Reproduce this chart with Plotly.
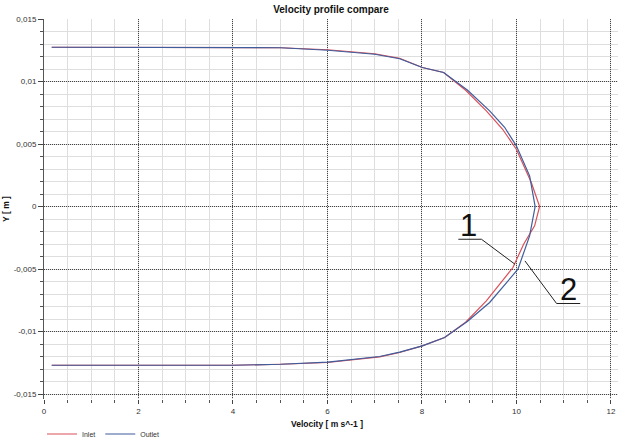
import plotly.graph_objects as go

# ---- data (velocity [m/s], position Y [m]) ----
inlet_v = [0.163, 2.004, 3.994, 5.010, 6.004, 6.999, 7.528, 8.008, 8.459, 8.925, 9.363, 9.708,
           9.998, 10.315, 10.491, 10.385, 10.152, 9.926, 9.363, 8.925, 8.480, 8.008, 7.528,
           7.105, 6.004, 5.010, 3.994, 2.004, 0.163]
inlet_y = [0.01274, 0.01274, 0.01274, 0.01270, 0.01254, 0.01222, 0.01186, 0.01112, 0.01072,
           0.00930, 0.00765, 0.00618, 0.00458, 0.00192, 0.0, -0.00155, -0.00302, -0.00488,
           -0.00755, -0.00926, -0.01048, -0.01115, -0.01168, -0.01203, -0.01248, -0.01262,
           -0.01270, -0.01270, -0.01270]

outlet_v = [0.163, 2.004, 3.994, 5.010, 6.004, 6.999, 7.528, 8.008, 8.459, 8.967, 9.433, 9.750,
            9.998, 10.279, 10.396, 10.279, 10.032, 9.433, 8.967, 8.480, 8.008, 7.528, 7.105,
            6.004, 5.010, 3.994, 2.004, 0.163]
outlet_y = [0.01274, 0.01274, 0.01274, 0.01270, 0.01250, 0.01218, 0.01182, 0.01112, 0.01072,
            0.00930, 0.00765, 0.00634, 0.00485, 0.00245, 0.0, -0.00235, -0.00502, -0.00768,
            -0.00918, -0.01048, -0.01115, -0.01165, -0.01200, -0.01245, -0.01262, -0.01270,
            -0.01270, -0.01270]

series_names = ["Inlet", "Outlet"]

x_tickvals = [0, 2, 4, 6, 8, 10, 12]
x_ticktext = ["0", "2", "4", "6", "8", "10", "12"]
y_tickvals = [-0.015, -0.01, -0.005, 0, 0.005, 0.01, 0.015]
y_ticktext = ["-0,015", "-0,01", "-0,005", "0", "0,005", "0,01", "0,015"]

# callout labels "1" / "2" with leader lines (data coordinates)
callout_labels = ["1", "2"]
callout_text_x = [8.99, 11.10]
callout_text_y = [-0.0015, -0.0066]
leader1_x = [8.77, 9.26, 9.97]
leader1_y = [-0.00262, -0.00262, -0.00462]
leader2_x = [11.35, 10.85, 10.18]
leader2_y = [-0.00776, -0.00776, -0.00435]

FONT = "Liberation Sans, Arial, sans-serif"

fig = go.Figure()
fig.add_trace(go.Scatter(x=inlet_v, y=inlet_y, mode="lines", name=series_names[0],
                         line=dict(color="#d9505a", width=1.2)))
fig.add_trace(go.Scatter(x=outlet_v, y=outlet_y, mode="lines", name=series_names[1],
                         line=dict(color="#3f5d9c", width=1.2)))

for lx, ly in [(leader1_x, leader1_y), (leader2_x, leader2_y)]:
    fig.add_trace(go.Scatter(x=lx, y=ly, mode="lines", showlegend=False, hoverinfo="skip",
                             line=dict(color="#222222", width=1)))

for t, tx, ty in zip(callout_labels, callout_text_x, callout_text_y):
    fig.add_annotation(x=tx, y=ty, text=t, showarrow=False,
                       font=dict(family=FONT, size=31, color="#111111"),
                       xanchor="center", yanchor="middle")

# x-axis title placed explicitly below the tick labels
fig.add_annotation(text="<b>Velocity [ m s^-1 ]</b>", xref="paper", yref="paper",
                   x=(327 - 44) / 574, y=-(424 - 399) / 380, showarrow=False,
                   xanchor="center", yanchor="middle",
                   font=dict(family=FONT, size=8.5, color="#111111"))

fig.update_layout(
    width=623, height=440,
    margin=dict(l=44, r=5, t=19, b=41),
    paper_bgcolor="white", plot_bgcolor="white",
    font=dict(family=FONT, size=8, color="#333333"),
    title=dict(text="<b>Velocity profile compare</b>", x=0.5, xref="paper",
               y=1 - 9 / 440, yref="container", yanchor="middle",
               font=dict(family=FONT, size=10, color="#111111")),
    showlegend=True,
    legend=dict(orientation="h", xref="container", yref="container",
                x=42 / 623, xanchor="left", y=1 - 434 / 440, yanchor="middle",
                font=dict(family=FONT, size=7, color="#333333"),
                bgcolor="rgba(0,0,0,0)", itemwidth=30, tracegroupgap=0),
    xaxis=dict(range=[0, 12.15], tickvals=x_tickvals, ticktext=x_ticktext, automargin=False,
               showgrid=True, gridcolor="#444444", griddash="1px,1px", gridwidth=1,
               zeroline=False, showline=False,
               ticks="outside", ticklen=4, tickcolor="#444444",
               tickfont=dict(size=8, color="#333333"),
               minor=dict(dtick=0.5, tick0=0, showgrid=True, gridcolor="#dedede",
                          griddash="solid", gridwidth=1,
                          ticks="outside", ticklen=3, tickcolor="#555555")),
    yaxis=dict(range=[-0.0154, 0.015], tickvals=y_tickvals, ticktext=y_ticktext, automargin=False,
               showgrid=True, gridcolor="#444444", griddash="1px,1px", gridwidth=1,
               zeroline=False, showline=True, linecolor="#555555", linewidth=1,
               ticks="outside", ticklen=5, tickcolor="#444444",
               tickfont=dict(size=8, color="#333333"),
               minor=dict(dtick=0.001, tick0=0, showgrid=True, gridcolor="#dedede",
                          griddash="solid", gridwidth=1,
                          ticks="outside", ticklen=3, tickcolor="#555555"),
               title=dict(text="<b>Y [ m ]</b>", standoff=2,
                          font=dict(family=FONT, size=8.5, color="#111111"))),
)

fig.write_html("out.html", post_script="document.body.style.margin='0';",
               config={"displayModeBar": False})
